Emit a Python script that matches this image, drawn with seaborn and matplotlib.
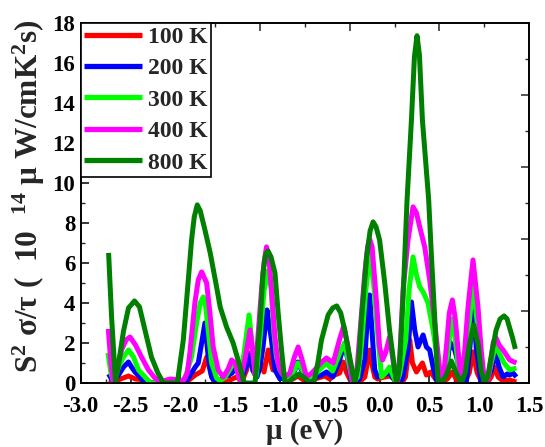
import matplotlib
matplotlib.use("Agg")
import matplotlib.pyplot as plt
from matplotlib.ticker import MultipleLocator, FormatStrFormatter
import seaborn as sns
import pandas as pd

# ---------------- data ----------------
mu800 = [-2.72, -2.69, -2.65, -2.61, -2.57, -2.52, -2.46, -2.41, -2.355, -2.29,
         -2.225, -2.17, -2.03, -1.97, -1.92, -1.887, -1.86, -1.83, -1.80, -1.753,
         -1.70, -1.636, -1.60, -1.536, -1.47, -1.40, -1.36, -1.25, -1.20, -1.17,
         -1.145, -1.12, -1.09, -1.05, -1.018, -0.984, -0.95, -0.92, -0.87, -0.81,
         -0.75, -0.70, -0.66, -0.62, -0.583, -0.516, -0.47, -0.43, -0.39, -0.35,
         -0.30, -0.25, -0.21, -0.18, -0.13, -0.095, -0.065, -0.035, 0.0, 0.052,
         0.10, 0.152, 0.17, 0.20, 0.236, 0.276, 0.32, 0.35, 0.376, 0.40,
         0.43, 0.493, 0.52, 0.553, 0.575, 0.59, 0.62, 0.67, 0.72, 0.77,
         0.82, 0.86, 0.90, 0.945, 0.99, 1.02, 1.055, 1.085, 1.13, 1.17,
         1.21, 1.25, 1.28, 1.306, 1.335, 1.363]
s800 = [6.5, 3.3, 0.0, 1.3, 2.6, 3.75, 4.1, 3.8, 2.65, 1.3,
        0.5, 0.0, 0.0, 2.15, 5.15, 7.15, 8.3, 8.9, 8.6, 7.65,
        6.5, 4.8, 3.8, 2.8, 2.0, 0.8, 0.0, 0.0, 3.0, 5.5,
        6.4, 6.6, 6.3, 5.5, 3.5, 1.65, 0.0, 0.0, 0.25, 0.45,
        0.25, 0.0, 0.0, 1.0, 2.15, 3.4, 3.75, 3.85, 3.5, 2.65,
        1.3, 0.0, 1.0, 3.3, 6.3, 7.6, 8.05, 7.8, 7.15, 5.0,
        2.65, 0.65, 0.0, 0.8, 4.3, 9.15, 13.15, 16.3, 17.35, 16.4,
        13.15, 9.15, 6.4, 3.3, 1.0, 0.0, 0.0, 0.4, 1.1, 0.5,
        0.0, 0.5, 1.9, 2.9, 1.9, 0.6, 0.0, 0.3, 1.6, 2.65,
        3.2, 3.35, 3.2, 2.75, 2.25, 1.7]

mu400 = [-2.723, -2.70, -2.673, -2.63, -2.59, -2.545, -2.505, -2.45, -2.39, -2.32,
         -2.255, -2.20, -2.14, -2.10, -2.02, -1.97, -1.93, -1.904, -1.854, -1.82,
         -1.786, -1.736, -1.703, -1.67, -1.62, -1.57, -1.52, -1.485, -1.45, -1.40,
         -1.35, -1.30, -1.275, -1.25, -1.218, -1.185, -1.16, -1.135, -1.11, -1.085,
         -1.05, -1.02, -0.984, -0.95, -0.90, -0.855, -0.817, -0.78, -0.733, -0.68,
         -0.633, -0.58, -0.533, -0.466, -0.40, -0.36, -0.32, -0.28, -0.265, -0.23,
         -0.20, -0.148, -0.12, -0.10, -0.075, -0.03, 0.0, 0.03, 0.06, 0.10,
         0.15, 0.18, 0.205, 0.236, 0.286, 0.336, 0.37, 0.403, 0.453, 0.503,
         0.554, 0.604, 0.625, 0.645, 0.671, 0.70, 0.731, 0.76, 0.788, 0.82,
         0.855, 0.888, 0.938, 0.988, 1.02, 1.055, 1.09, 1.12, 1.14, 1.165,
         1.20, 1.24, 1.306, 1.373]
s400 = [2.7, 1.2, 0.0, 0.8, 1.65, 2.15, 2.3, 1.9, 1.3, 0.65,
        0.25, 0.05, 0.15, 0.2, 0.15, 0.1, 0.5, 1.5, 4.0, 5.15,
        5.55, 5.0, 3.5, 1.8, 0.65, 0.3, 0.7, 1.15, 1.0, 0.1,
        1.2, 2.65, 1.6, 0.4, 2.5, 4.65, 6.0, 6.8, 6.2, 4.65,
        2.3, 1.0, 0.5, 0.3, 0.5, 1.3, 1.8, 1.2, 0.3, 0.5,
        0.75, 1.05, 1.25, 1.0, 2.2, 2.85, 1.9, 0.3, 0.0, 0.5,
        2.3, 5.5, 6.8, 7.2, 6.8, 4.0, 1.8, 1.15, 1.5, 2.3,
        0.65, 0.0, 1.5, 4.65, 7.15, 8.8, 8.5, 7.8, 6.8, 5.15,
        3.0, 0.65, 0.0, 0.5, 1.8, 3.5, 4.15, 3.2, 1.65, 0.0,
        1.65, 3.8, 6.15, 3.8, 1.65, 0.0, 0.2, 1.2, 2.0, 2.3,
        1.9, 1.65, 1.15, 1.0]

mu300 = [-2.726, -2.70, -2.67, -2.62, -2.57, -2.52, -2.47, -2.42, -2.355, -2.30,
         -2.00, -1.95, -1.887, -1.837, -1.80, -1.77, -1.745, -1.72, -1.686, -1.636,
         -1.60, -1.55, -1.50, -1.47, -1.44, -1.40, -1.36, -1.31, -1.27, -1.24,
         -1.20, -1.16, -1.12, -1.09, -1.06, -1.035, -1.00, -0.95, -0.90, -0.85,
         -0.82, -0.78, -0.73, -0.633, -0.533, -0.47, -0.40, -0.35, -0.31, -0.27,
         -0.22, -0.18, -0.14, -0.10, -0.06, -0.02, 0.02, 0.06, 0.10, 0.14,
         0.17, 0.20, 0.263, 0.296, 0.336, 0.37, 0.403, 0.437, 0.486, 0.537,
         0.587, 0.62, 0.66, 0.70, 0.73, 0.76, 0.79, 0.82, 0.86, 0.90,
         0.94, 0.98, 1.02, 1.055, 1.09, 1.13, 1.165, 1.20, 1.25, 1.306,
         1.373]
s300 = [1.5, 0.6, 0.0, 0.8, 1.3, 1.65, 1.3, 0.65, 0.3, 0.0,
        0.0, 0.3, 1.3, 3.0, 4.0, 4.3, 3.8, 2.65, 1.0, 0.25,
        0.1, 0.3, 0.7, 1.0, 0.8, 0.1, 1.5, 3.4, 1.5, 0.3,
        2.2, 4.6, 5.6, 4.8, 2.5, 1.3, 0.65, 0.3, 0.3, 0.7,
        1.0, 0.7, 0.2, 0.5, 1.0, 0.6, 1.5, 2.0, 1.0, 0.0,
        0.3, 2.0, 4.5, 6.5, 5.0, 2.5, 0.3, 0.5, 0.8, 0.3,
        0.0, 0.4, 2.15, 4.65, 6.3, 5.4, 4.8, 4.55, 4.0, 2.65,
        1.0, 0.0, 0.5, 2.2, 3.2, 2.2, 0.8, 0.0, 1.2, 3.0,
        5.0, 3.0, 1.0, 0.0, 0.3, 1.2, 1.9, 1.5, 1.0, 0.65,
        0.75]

mu200 = [-2.72, -2.69, -2.67, -2.62, -2.57, -2.52, -2.49, -2.455, -2.405, -2.35,
         -1.95, -1.887, -1.85, -1.82, -1.786, -1.753, -1.72, -1.686, -1.65, -1.55,
         -1.48, -1.43, -1.38, -1.34, -1.31, -1.27, -1.23, -1.20, -1.17, -1.13,
         -1.11, -1.085, -1.05, -1.00, -0.95, -0.87, -0.82, -0.77, -0.73, -0.68,
         -0.633, -0.58, -0.533, -0.47, -0.41, -0.35, -0.31, -0.28, -0.20, -0.148,
         -0.13, -0.10, -0.065, -0.048, -0.02, 0.03, 0.10, 0.17, 0.23, 0.286,
         0.32, 0.353, 0.386, 0.437, 0.47, 0.503, 0.537, 0.57, 0.60, 0.64,
         0.677, 0.705, 0.755, 0.788, 0.82, 0.87, 0.905, 0.938, 0.972, 1.02,
         1.07, 1.12, 1.165, 1.20, 1.24, 1.28, 1.306, 1.34, 1.373]
s200 = [0.45, 0.2, 0.0, 0.4, 0.8, 1.05, 0.8, 0.55, 0.3, 0.0,
        0.0, 0.5, 0.8, 1.0, 2.0, 3.0, 1.3, 0.3, 0.0, 0.3,
        0.5, 0.9, 0.3, 0.8, 1.4, 0.6, 0.3, 0.8, 1.8, 3.65,
        3.0, 2.15, 0.65, 0.2, 0.3, 0.4, 1.05, 0.5, 0.1, 0.2,
        0.3, 0.4, 0.55, 0.3, 1.0, 2.0, 0.9, 0.0, 0.2, 1.15,
        2.65, 4.4, 1.8, 0.65, 0.3, 0.4, 0.5, 0.0, 0.2, 1.65,
        4.05, 2.65, 1.8, 2.4, 1.8, 1.65, 0.8, 0.15, 0.0, 0.3,
        0.8, 2.05, 1.65, 1.0, 0.0, 0.0, 1.65, 3.9, 1.65, 0.0,
        0.1, 0.6, 1.5, 0.8, 0.3, 0.45, 0.4, 0.5, 0.3]

mu100 = [-2.72, -2.67, -2.60, -2.52, -2.45, -2.35, -2.28, -1.95, -1.90, -1.85,
         -1.78, -1.735, -1.69, -1.65, -1.55, -1.48, -1.435, -1.38, -1.335, -1.30,
         -1.27, -1.24, -1.20, -1.16, -1.118, -1.07, -1.035, -0.984, -0.93, -0.87,
         -0.82, -0.75, -0.65, -0.55, -0.50, -0.45, -0.40, -0.367, -0.33, -0.28,
         -0.20, -0.148, -0.13, -0.10, -0.07, -0.048, -0.02, 0.05, 0.10, 0.15,
         0.22, 0.26, 0.28, 0.303, 0.33, 0.37, 0.43, 0.47, 0.513, 0.554,
         0.60, 0.68, 0.73, 0.78, 0.86, 0.90, 0.938, 0.98, 1.02, 1.08,
         1.12, 1.155, 1.19, 1.24, 1.30, 1.373]
s100 = [0.1, 0.05, 0.2, 0.35, 0.2, 0.15, 0.0, 0.0, 0.2, 0.4,
        0.6, 1.3, 0.4, 0.1, 0.0, 0.2, 0.3, 0.1, 0.65, 1.5,
        0.65, 0.3, 1.05, 0.55, 1.65, 0.65, 1.0, 0.3, 0.15, 0.2,
        0.35, 0.1, 0.2, 0.35, 0.2, 0.4, 0.5, 1.05, 0.5, 0.0,
        0.05, 0.3, 0.8, 1.65, 0.8, 0.3, 0.2, 0.3, 0.35, 0.2,
        0.0, 0.3, 1.15, 2.15, 1.0, 0.55, 1.0, 0.4, 0.55, 0.25,
        0.0, 0.2, 0.55, 0.1, 0.1, 0.5, 1.55, 0.5, 0.1, 0.0,
        0.3, 0.8, 0.3, 0.1, 0.15, 0.05]

labels = ["100 K", "200 K", "300 K", "400 K", "800 K"]
colors = ["#FF0000", "#0000FF", "#00FF00", "#FF00FF", "#008000"]
series_mu = [mu100, mu200, mu300, mu400, mu800]
series_s = [s100, s200, s300, s400, s800]

frames = []
for lab, m, s in zip(labels, series_mu, series_s):
    assert len(m) == len(s), (lab, len(m), len(s))
    frames.append(pd.DataFrame({"mu": m, "S": s, "T": lab}))
df = pd.concat(frames, ignore_index=True)

# ---------------- style ----------------
sns.set_style("ticks")
plt.rcParams["font.family"] = ["Liberation Serif", "DejaVu Serif"]
plt.rcParams["font.weight"] = "bold"
plt.rcParams["axes.unicode_minus"] = False
plt.rcParams["mathtext.fontset"] = "custom"
plt.rcParams["mathtext.rm"] = "Liberation Serif:bold"
plt.rcParams["mathtext.it"] = "Liberation Serif:italic:bold"
plt.rcParams["mathtext.bf"] = "Liberation Serif:bold"
plt.rcParams["mathtext.default"] = "regular"

fig = plt.figure(figsize=(5.45, 4.47), dpi=100)
ax = fig.add_axes([80.7 / 545, 1 - 383 / 447, 448.3 / 545, 360.3 / 447])

sns.lineplot(data=df, x="mu", y="S", hue="T", hue_order=labels,
             palette=dict(zip(labels, colors)), estimator=None, sort=False,
             linewidth=3.6, ax=ax)
for ln in ax.get_lines():
    ln.set_solid_joinstyle("round")
    ln.set_solid_capstyle("butt")

ax.set_xlim(-3.0, 1.5)
ax.set_ylim(0, 18)
ax.xaxis.set_major_locator(MultipleLocator(0.5))
ax.xaxis.set_minor_locator(MultipleLocator(0.25))
ax.yaxis.set_major_locator(MultipleLocator(2))
ax.yaxis.set_minor_locator(MultipleLocator(1))
ax.xaxis.set_major_formatter(FormatStrFormatter("%.1f"))
ax.tick_params(which="major", direction="in", length=6, width=1.1,
               labelsize=16.5, colors="black")
ax.tick_params(axis="x", which="major", pad=9)
ax.tick_params(axis="y", which="major", pad=4)
ax.tick_params(which="minor", direction="in", length=3, width=1.0)
for lab in ax.get_xticklabels() + ax.get_yticklabels():
    lab.set_fontweight("bold")
for sp in ax.spines.values():
    sp.set_linewidth(1.2)
    sp.set_color("black")

# top / right linked axes ticks (10 divisions)
axt = ax.twiny()
axt.set_xlim(0, 10)
axt.xaxis.set_major_locator(MultipleLocator(2))
axt.xaxis.set_minor_locator(MultipleLocator(1))
axt.tick_params(which="major", direction="in", length=6, width=1.1, labeltop=False)
axt.tick_params(which="minor", direction="in", length=3, width=1.0)
axr = ax.twinx()
axr.set_ylim(0, 10)
axr.yaxis.set_major_locator(MultipleLocator(2))
axr.yaxis.set_minor_locator(MultipleLocator(1))
axr.tick_params(which="major", direction="in", length=6, width=1.1, labelright=False)
axr.tick_params(which="minor", direction="in", length=3, width=1.0)
for a in (axt, axr):
    for sp in a.spines.values():
        sp.set_linewidth(1.2)

ax.set_xlabel("μ (eV)", fontsize=21, fontweight="bold", labelpad=1)
ax.set_ylabel("S$^2$ σ/τ (  10  $^{14}$ μ W/cmK$^2$s)", fontsize=22.5,
              fontweight="bold")
ax.yaxis.set_label_coords(-0.076, 0.519)

handles, labs = ax.get_legend_handles_labels()
leg = ax.legend(handles, labs, loc="upper left", bbox_to_anchor=(0, 1),
                borderaxespad=0, frameon=True, fancybox=False,
                edgecolor="black", framealpha=1,
                prop={"family": "Liberation Serif", "weight": "bold", "size": 17},
                handlelength=2.45, handletextpad=0.25, labelspacing=0.42,
                borderpad=0.15)
leg.get_frame().set_linewidth(1.2)
for h in leg.get_lines():
    h.set_linewidth(3.8)
leg.set_zorder(10)
axt.set_zorder(ax.get_zorder() - 1)
axr.set_zorder(ax.get_zorder() - 1)
ax.patch.set_visible(False)

fig.savefig("out.png", dpi=100)
